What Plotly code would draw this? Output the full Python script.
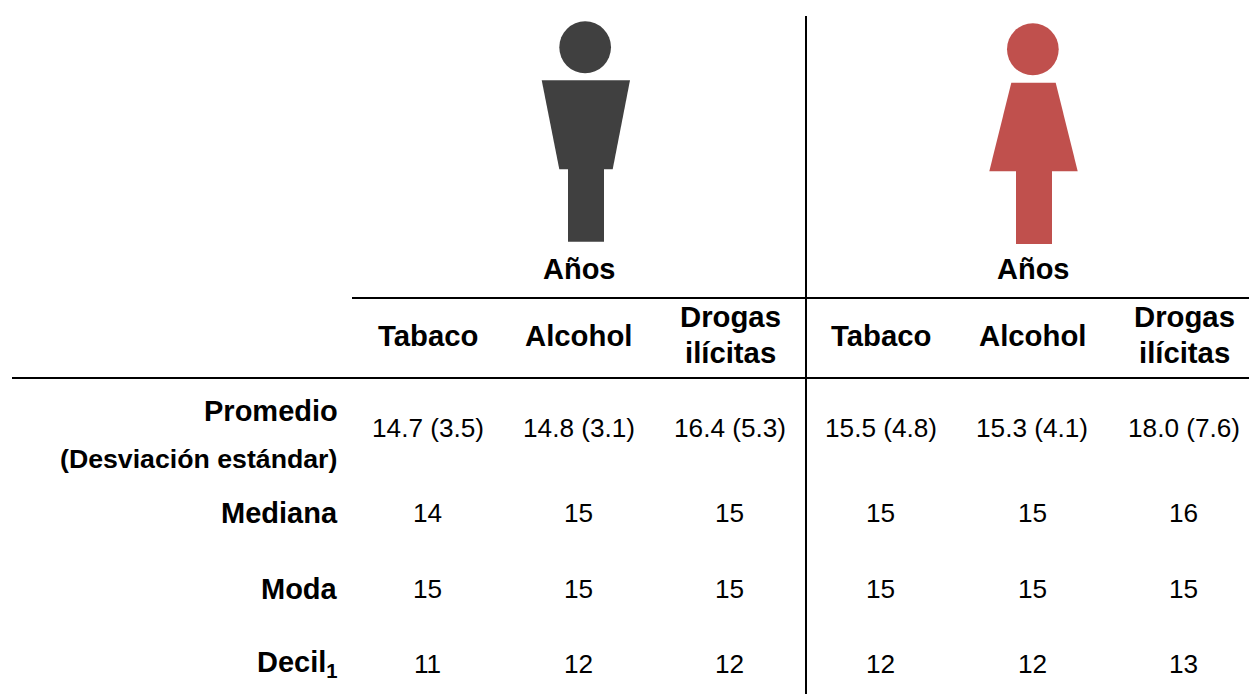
import plotly.graph_objects as go

# Data
sex_headers = ["Años", "Años"]
columns = ["Tabaco", "Alcohol", ("Drogas", "ilícitas"), "Tabaco", "Alcohol", ("Drogas", "ilícitas")]
row_labels = ["Promedio", "Mediana", "Moda", "Decil<sub>1</sub>"]
row_sublabel = "(Desviación estándar)"
promedio = ["14.7 (3.5)", "14.8 (3.1)", "16.4 (5.3)", "15.5 (4.8)", "15.3 (4.1)", "18.0 (7.6)"]
mediana = [14, 15, 15, 15, 15, 16]
moda = [15, 15, 15, 15, 15, 15]
decil1 = [11, 12, 12, 12, 12, 13]

# Layout constants (page pixels)
W, H = 1249, 694
col_x = [427.9, 578.9, 729.9, 880.9, 1032.1, 1183.9]
row_y = [428, 513, 589, 664]
label_y = [411, 513, 589, 664]
FONT = "Liberation Sans"
DARK, RED = "#404040", "#C0504D"

rows = [promedio, mediana, moda, decil1]
ann = []


def text(x, y, s, size, bold=False, anchor="center"):
    ann.append(dict(x=x, y=y, xref="x", yref="y", text=f"<b>{s}</b>" if bold else s,
                    showarrow=False, xanchor=anchor, yanchor="middle", align=anchor,
                    font=dict(family=FONT, size=size, color="#000000")))


for x, s in zip([579.3, 1033.3], sex_headers):
    text(x, 269, s, 29, True)
for x, s in zip(col_x, columns):
    if isinstance(s, tuple):
        text(x + 0.3, 316.4, s[0], 29.3, True)
        text(x + 0.3, 352.4, s[1], 29.3, True)
    else:
        text(x, 335.4, s, 29.3, True)
for y, s in zip(label_y, row_labels):
    text(340, y, s, 29, True, "right")
text(339, 459, row_sublabel, 26.7, True, "right")
for y, row in zip(row_y, rows):
    for x, v in zip(col_x, row):
        text(x, y, str(v), 26.2)


def line(x0, y0, x1, y1):
    return dict(type="line", x0=x0, y0=y0, x1=x1, y1=y1, line=dict(color="#000000", width=2))


def poly(pts, color):
    return dict(type="path", path="M " + " L ".join(f"{a},{b}" for a, b in pts) + " Z",
                fillcolor=color, line=dict(width=0))


def circ(x0, y0, x1, y1, color):
    return dict(type="circle", x0=x0, y0=y0, x1=x1, y1=y1, fillcolor=color, line=dict(width=0))


shapes = [
    line(806, 16, 806, 694), line(352, 298, 1249, 298), line(12, 378, 1249, 378),
    circ(559.3, 21.3, 611, 73.3, DARK),
    poly([(541.7, 80.3), (630, 80.3), (612.7, 169.3), (559.3, 169.3)], DARK),
    poly([(568, 169), (604, 169), (604, 241.7), (568, 241.7)], DARK),
    circ(1007, 23.3, 1058.7, 75.3, RED),
    poly([(1011.3, 82.7), (1055.7, 82.7), (1077.7, 171.3), (989.3, 171.3)], RED),
    poly([(1016, 171), (1052, 171), (1052, 244), (1016, 244)], RED),
]

fig = go.Figure()
fig.update_layout(
    width=W, height=H, margin=dict(l=0, r=0, t=0, b=0),
    paper_bgcolor="white", plot_bgcolor="white", showlegend=False,
    xaxis=dict(range=[0, W], visible=False, fixedrange=True),
    yaxis=dict(range=[H, 0], visible=False, fixedrange=True),
    shapes=shapes, annotations=ann,
)
fig.write_html("out.html", config=dict(displayModeBar=False),
               post_script="document.body.style.margin='0';document.documentElement.style.overflow='hidden';")
